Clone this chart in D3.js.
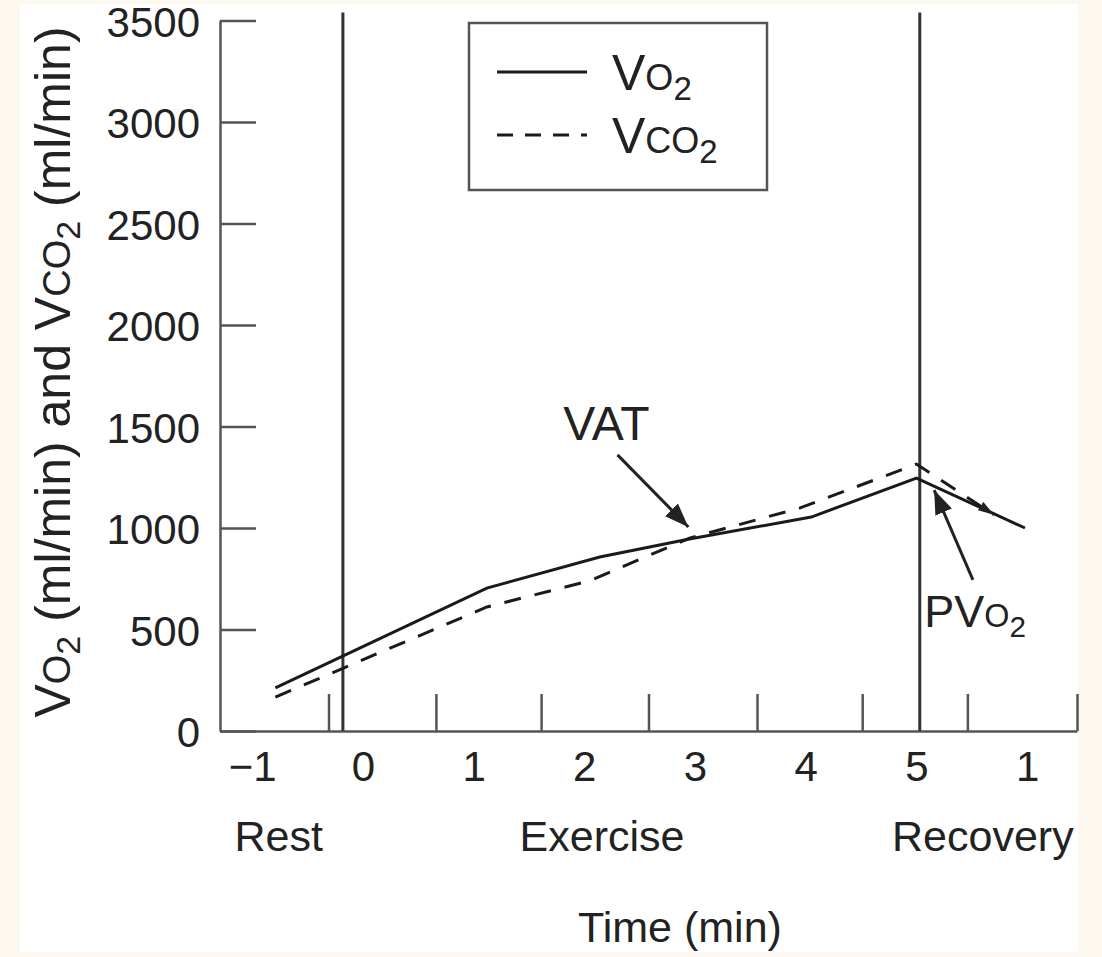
<!DOCTYPE html>
<html>
<head>
<meta charset="utf-8">
<script src="https://cdn.jsdelivr.net/npm/d3@7"></script>
<style>
body { margin: 0; background: #fcf8ef; }
text { font-family: "Liberation Sans", Arial, sans-serif; fill: #222; }
</style>
</head>
<body>
<script>
// time axis: label positions and the (offset) tick marks
var timeAt = [-1, 0, 1, 2, 3, 4, 5, 6];
var timeLabels = ["\u22121", "0", "1", "2", "3", "4", "5", "1"];
var tickMarks = [-0.31, 0.66, 1.61, 2.58, 3.56, 4.51, 5.46, 6.45];
var yTicks = [0, 500, 1000, 1500, 2000, 2500, 3000, 3500];

// series (ml/min)
var vo2Time = [-0.79, 1.12, 2.14, 2.95, 4.05, 5.0, 5.98];
var vo2 = [212, 704, 857, 946, 1054, 1246, 1000];
var vco2Time = [-0.79, 1.12, 2.05, 2.95, 3.95, 5.0, 5.7];
var vco2 = [167, 611, 740, 950, 1099, 1315, 1065];

// phases and dividers
var phases = ["Rest", "Exercise", "Recovery"];
var phaseAt = [-0.76, 2.16, 5.6];
var dividers = [-0.18, 5.03];

var W = 1102, H = 957;

var svg = d3.select("body").append("svg")
    .attr("width", W)
    .attr("height", H);

// paper
svg.append("rect").attr("width", W).attr("height", H).attr("fill", "#fcf8ef");
svg.append("rect").attr("x", 20).attr("y", 4).attr("width", 1058).attr("height", 948).attr("fill", "#fff");

var x = d3.scaleLinear().domain([-1.29, 6.45]).range([220, 1077]);
var y = d3.scaleLinear().domain([0, 3500]).range([731, 20.5]);

var axisCol = "#555";

// y axis, ticks pointing inward
var gy = svg.append("g")
    .attr("transform", "translate(" + x.range()[0] + ",0)")
    .call(d3.axisLeft(y).tickValues(yTicks).tickSizeInner(-36).tickSizeOuter(0).tickPadding(20)
        .tickFormat(d3.format("d")));
gy.selectAll("text").attr("dy", "0.38em");

// x axis tick marks
var gx = svg.append("g")
    .attr("transform", "translate(0," + y(0) + ")")
    .call(d3.axisBottom(x).tickValues(tickMarks).tickSizeInner(-37).tickSizeOuter(0).tickFormat(""));

// x axis labels
var gxl = svg.append("g")
    .attr("transform", "translate(0," + y(0) + ")")
    .call(d3.axisBottom(x).tickValues(timeAt).tickSize(0).tickPadding(20)
        .tickFormat(function(d, i) { return timeLabels[i]; }));
gxl.select(".domain").remove();

[gy, gx, gxl].forEach(function(g) {
    g.attr("font-family", null).attr("font-size", 42);
    g.selectAll("path, line").attr("stroke", axisCol).attr("stroke-width", 2.5);
    g.selectAll("text").attr("fill", "#222");
});

// phase dividers
svg.selectAll(".divider")
    .data(dividers)
    .enter().append("line")
    .attr("x1", function(d) { return x(d); })
    .attr("x2", function(d) { return x(d); })
    .attr("y1", y(0))
    .attr("y2", y(3540))
    .attr("stroke", "#333")
    .attr("stroke-width", 3);

// arrow markers
var defs = svg.append("defs");
defs.append("marker")
    .attr("id", "head")
    .attr("markerUnits", "userSpaceOnUse")
    .attr("viewBox", "0 0 24 18")
    .attr("refX", 24).attr("refY", 9)
    .attr("markerWidth", 24).attr("markerHeight", 18)
    .attr("orient", "auto")
    .append("path").attr("d", "M0,0 L24,9 L0,18 Z").attr("fill", "#222");
defs.append("marker")
    .attr("id", "small")
    .attr("markerUnits", "userSpaceOnUse")
    .attr("viewBox", "0 0 16 10")
    .attr("refX", 16).attr("refY", 5)
    .attr("markerWidth", 16).attr("markerHeight", 10)
    .attr("orient", "auto")
    .append("path").attr("d", "M0,0 L16,5 L0,10 Z").attr("fill", "#222");

var line = d3.line()
    .x(function(d) { return x(d[0]); })
    .y(function(d) { return y(d[1]); });

svg.append("path")
    .attr("fill", "none")
    .attr("stroke", "#1a1a1a")
    .attr("stroke-width", 3)
    .attr("d", line(d3.zip(vo2Time, vo2)));

svg.append("path")
    .attr("fill", "none")
    .attr("stroke", "#1a1a1a")
    .attr("stroke-width", 3)
    .attr("stroke-dasharray", "17,14")
    .attr("marker-end", "url(#small)")
    .attr("d", line(d3.zip(vco2Time, vco2)));

// helper for V O2 style labels: big letter, small caps, subscript
function formula(g, parts, big) {
    var t = g.append("text");
    parts.forEach(function(p) {
        t.append("tspan")
            .attr("font-size", p[1] * big)
            .attr("dy", p[2])
            .text(p[0]);
    });
    return t;
}
var VO2 = [["V", 1, 0], ["O", 0.72, 0], ["2", 0.66, 10]];
var VCO2 = [["V", 1, 0], ["CO", 0.72, 0], ["2", 0.66, 10]];

// legend
var leg = svg.append("g");
leg.append("rect")
    .attr("x", 469).attr("y", 23).attr("width", 298).attr("height", 167)
    .attr("fill", "#fff").attr("stroke", axisCol).attr("stroke-width", 2.5);
leg.append("line").attr("x1", 497).attr("x2", 587).attr("y1", 72).attr("y2", 72)
    .attr("stroke", "#1a1a1a").attr("stroke-width", 3);
leg.append("line").attr("x1", 497).attr("x2", 587).attr("y1", 135).attr("y2", 135)
    .attr("stroke", "#1a1a1a").attr("stroke-width", 3).attr("stroke-dasharray", "16,12");
formula(leg, VO2, 50).attr("x", 612).attr("y", 90);
formula(leg, VCO2, 50).attr("x", 612).attr("y", 153);

// annotations
svg.append("text")
    .attr("x", x(2.2)).attr("y", y(1433))
    .attr("text-anchor", "middle")
    .attr("font-size", 48)
    .text("VAT");
svg.append("line")
    .attr("x1", x(2.3)).attr("y1", y(1360))
    .attr("x2", x(2.94)).attr("y2", y(1005))
    .attr("stroke", "#222").attr("stroke-width", 3)
    .attr("marker-end", "url(#head)");

formula(svg, [["PV", 1, 0], ["O", 0.72, 0], ["2", 0.66, 10]], 45)
    .attr("x", x(5.07)).attr("y", y(512));
svg.append("line")
    .attr("x1", x(5.51)).attr("y1", y(744))
    .attr("x2", x(5.16)).attr("y2", y(1187))
    .attr("stroke", "#222").attr("stroke-width", 3)
    .attr("marker-end", "url(#head)");

// phase labels
svg.selectAll(".phase")
    .data(phases)
    .enter().append("text")
    .attr("x", function(d, i) { return x(phaseAt[i]); })
    .attr("y", 851)
    .attr("text-anchor", "middle")
    .attr("font-size", 43)
    .text(function(d) { return d; });

// axis titles
svg.append("text")
    .attr("x", 680).attr("y", 942)
    .attr("text-anchor", "middle")
    .attr("font-size", 43)
    .text("Time (min)");

var yt = svg.append("text")
    .attr("transform", "translate(70," + 372 + ") rotate(-90)")
    .attr("text-anchor", "middle");
[["V", 50, 0], ["O", 38, 0], ["2", 34, 10], [" (ml/min) and ", 50, -10],
 ["V", 50, 0], ["CO", 38, 0], ["2", 34, 10], [" (ml/min)", 50, -10]].forEach(function(p) {
    yt.append("tspan").attr("font-size", p[1]).attr("dy", p[2]).text(p[0]);
});
</script>
</body>
</html>
